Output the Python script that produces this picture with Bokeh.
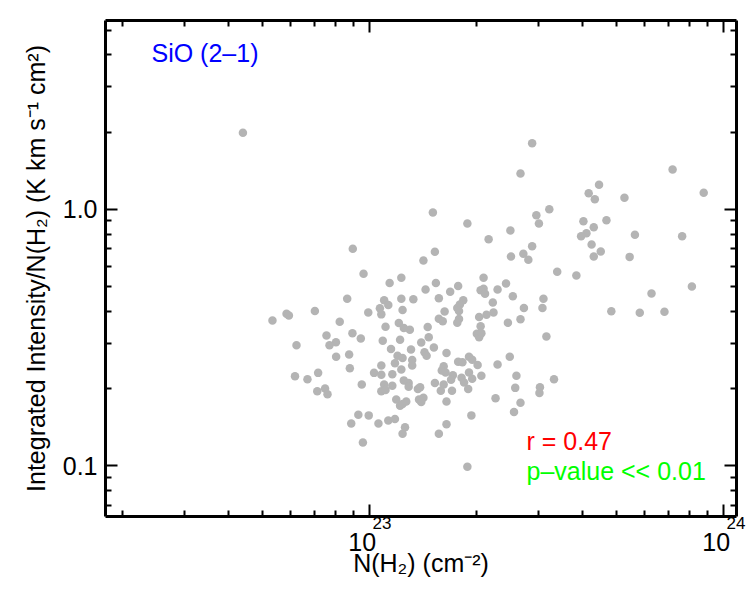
from bokeh.plotting import figure
from bokeh.models import (Range1d, LogAxis, FixedTicker, CustomJSTickFormatter,
                          Label, ColumnDataSource)
from bokeh.embed import file_html
from bokeh.resources import INLINE

# Column density of molecular hydrogen, N(H2) in cm^-2
n_h2 = [
    4.39e22, 2.88e23, 2.67e23, 7.18e23, 8.79e23, 4.45e23, 4.16e23, 4.33e23, 5.25e23, 3.22e23,
    1.51e23, 2.96e23, 3.01e23, 1.89e23, 4.02e23, 4.67e23, 2.50e23, 4.10e23, 3.96e23, 4.30e23,
    5.62e23, 7.64e23, 2.17e23, 4.24e23, 2.88e23, 2.72e23, 2.51e23, 2.81e23, 4.30e23, 4.50e23,
    5.43e23, 1.53e23, 1.42e23, 3.39e23, 8.97e22, 9.62e22, 3.84e23, 1.14e23, 1.23e23, 1.54e23,
    1.44e23, 1.78e23, 1.69e23, 2.10e23, 2.10e23, 2.06e23, 2.12e23, 2.30e23, 2.43e23, 2.54e23,
    3.10e23, 6.26e23, 8.14e23, 1.10e23, 1.23e23, 1.33e23, 1.57e23, 1.84e23, 8.65e22, 2.23e23,
    3.08e23, 4.82e23, 5.80e23, 6.81e23, 1.13e23, 1.07e23, 1.08e23, 1.24e23, 9.92e22, 7.01e22,
    5.83e22, 5.92e22, 5.32e22, 8.24e22, 1.11e23, 1.21e23, 1.25e23, 1.30e23, 7.56e22, 8.95e22,
    9.45e22, 1.09e23, 1.22e23, 8.04e22, 7.71e22, 6.22e22, 1.15e23, 1.31e23, 8.05e22, 8.76e22,
    1.20e23, 1.24e23, 1.32e23, 8.80e22, 1.08e23, 1.18e23, 1.23e23, 1.32e23, 7.16e22, 6.16e22,
    1.03e23, 1.08e23, 1.16e23, 1.46e23, 1.40e23, 1.47e23, 1.43e23, 1.45e23, 1.52e23, 1.65e23,
    1.80e23, 1.77e23, 1.79e23, 1.79e23, 1.77e23, 1.63e23, 2.24e23, 2.14e23, 2.04e23, 2.67e23,
    2.46e23, 1.57e23, 1.61e23, 2.06e23, 2.01e23, 2.04e23, 2.07e23, 3.16e23, 2.49e23, 1.78e23,
    1.83e23, 1.91e23, 1.95e23, 2.02e23, 2.30e23, 1.62e23, 1.60e23, 1.64e23, 1.72e23, 1.91e23,
    2.07e23, 2.60e23, 2.73e23, 6.68e22, 7.12e22, 7.49e22, 7.61e22, 9.51e22, 1.10e23, 1.08e23,
    1.11e23, 1.16e23, 1.25e23, 1.29e23, 1.29e23, 1.37e23, 1.39e23, 1.19e23, 1.22e23, 1.24e23,
    1.27e23, 1.38e23, 1.42e23, 1.40e23, 9.30e22, 9.95e22, 8.88e22, 1.06e23, 1.13e23, 1.18e23,
    1.26e23, 1.24e23, 9.58e22, 1.53e23, 1.62e23, 1.59e23, 1.70e23, 1.82e23, 1.85e23, 1.95e23,
    1.71e23, 1.90e23, 1.65e23, 1.94e23, 1.65e23, 1.57e23, 1.89e23, 2.27e23, 2.58e23, 2.67e23,
    2.56e23, 3.03e23, 3.02e23, 3.32e23,
]

# SiO (2-1) integrated intensity divided by N(H2)
ratio = [
    1.99, 1.81, 1.38, 1.43, 1.16, 1.245, 1.155, 1.094, 1.11, 1.00,
    0.971, 0.947, 0.880, 0.880, 0.898, 0.906, 0.826, 0.806, 0.785, 0.851,
    0.795, 0.785, 0.764, 0.728, 0.717, 0.670, 0.654, 0.635, 0.654, 0.684,
    0.652, 0.682, 0.631, 0.571, 0.701, 0.560, 0.551, 0.516, 0.541, 0.516,
    0.486, 0.502, 0.477, 0.540, 0.490, 0.483, 0.468, 0.486, 0.513, 0.458,
    0.448, 0.469, 0.500, 0.442, 0.448, 0.446, 0.450, 0.442, 0.448, 0.433,
    0.412, 0.400, 0.395, 0.398, 0.423, 0.411, 0.389, 0.405, 0.396, 0.401,
    0.391, 0.385, 0.368, 0.364, 0.348, 0.360, 0.344, 0.339, 0.322, 0.328,
    0.313, 0.307, 0.310, 0.303, 0.295, 0.295, 0.285, 0.284, 0.266, 0.271,
    0.268, 0.263, 0.258, 0.240, 0.246, 0.251, 0.237, 0.246, 0.230, 0.223,
    0.230, 0.226, 0.227, 0.347, 0.302, 0.317, 0.277, 0.268, 0.289, 0.275,
    0.425, 0.412, 0.401, 0.373, 0.361, 0.399, 0.396, 0.388, 0.380, 0.372,
    0.361, 0.374, 0.366, 0.350, 0.327, 0.317, 0.328, 0.319, 0.266, 0.254,
    0.253, 0.266, 0.259, 0.247, 0.248, 0.244, 0.235, 0.231, 0.225, 0.231,
    0.224, 0.224, 0.412, 0.217, 0.195, 0.200, 0.190, 0.207, 0.207, 0.195,
    0.197, 0.205, 0.215, 0.210, 0.203, 0.199, 0.202, 0.181, 0.171, 0.174,
    0.178, 0.181, 0.184, 0.177, 0.158, 0.157, 0.146, 0.146, 0.150, 0.152,
    0.141, 0.133, 0.123, 0.210, 0.207, 0.196, 0.216, 0.220, 0.211, 0.218,
    0.196, 0.199, 0.178, 0.157, 0.145, 0.133, 0.099, 0.183, 0.201, 0.176,
    0.162, 0.202, 0.192, 0.217,
]

# Axis ticks and their labels
x_ticks = [1e23, 1e24]
x_tick_mantissa = "10"
x_tick_exponents = ["23", "24"]
y_ticks = [0.1, 1.0]
y_tick_labels = ["0.1", "1.0"]

line_name = "SiO (2–1)"
corr_text = "r = 0.47"
pval_text = "p–value << 0.01"

FONT = "Liberation Sans"
FS = "25px"

x_minor = [m * 10.0 ** e for e in (22, 23) for m in range(2, 10)]
y_minor = [m * 10.0 ** e for e in (-2, -1, 0) for m in range(2, 10)]

p = figure(width=750, height=600, x_axis_type="log", y_axis_type="log",
           x_range=Range1d(1.796e22, 1.088e24), y_range=Range1d(0.0633, 5.45),
           output_backend="svg", toolbar_location=None,
           min_border_left=105, min_border_right=14, min_border_top=20,
           min_border_bottom=84)
p.xgrid.visible = False
p.ygrid.visible = False
p.outline_line_color = None
p.background_fill_color = "white"
p.border_fill_color = "white"


def style_axis(ax):
    ax.axis_line_color = "black"
    ax.axis_line_width = 3
    ax.major_tick_line_color = "black"
    ax.major_tick_line_width = 2
    ax.minor_tick_line_color = "black"
    ax.minor_tick_line_width = 2
    ax.major_tick_in = 12
    ax.major_tick_out = 0
    ax.minor_tick_in = 6
    ax.minor_tick_out = 0
    ax.major_label_text_font = FONT
    ax.major_label_text_font_size = FS
    ax.major_label_text_color = "black"
    ax.axis_label_text_font = FONT
    ax.axis_label_text_font_size = FS
    ax.axis_label_text_font_style = "normal"
    ax.axis_label_text_color = "black"


def label_only(ax, size):
    # an axis that only carries text: no line, no ticks
    ax.axis_line_color = None
    ax.major_tick_line_color = None
    ax.minor_tick_line_color = None
    ax.major_tick_in = 0
    ax.major_tick_out = 0
    ax.minor_tick_in = 0
    ax.minor_tick_out = 0
    ax.major_label_text_font = FONT
    ax.major_label_text_font_size = size
    ax.major_label_text_color = "black"
    ax.axis_label_text_font = FONT
    ax.axis_label_text_font_size = FS
    ax.axis_label_text_font_style = "normal"
    ax.axis_label_text_color = "black"


xticker = FixedTicker(ticks=x_ticks, minor_ticks=x_minor)
yticker = FixedTicker(ticks=y_ticks, minor_ticks=y_minor)
blank = CustomJSTickFormatter(code="return ''")

# main bottom axis: line and inward ticks
xa = p.xaxis[0]
xa.ticker = xticker
xa.formatter = blank
xa.major_label_standoff = 0
xa.axis_label = None
style_axis(xa)

# exponent row, set a little right of each decade tick
exp_pos = [t * 1.0847 for t in x_ticks]
xe = LogAxis(ticker=FixedTicker(ticks=exp_pos),
             major_label_overrides=dict(zip(exp_pos, x_tick_exponents)),
             major_label_standoff=0, axis_label=None)
label_only(xe, "17px")
p.add_layout(xe, "below")

# mantissa row "10", a little left of each decade tick
man_pos = [t * 0.9535 for t in x_ticks]
xm = LogAxis(ticker=FixedTicker(ticks=man_pos),
             major_label_overrides={v: x_tick_mantissa for v in man_pos},
             major_label_standoff=1, axis_label="N(H₂) (cm⁻²)",
             axis_label_standoff=-5)
label_only(xm, FS)
p.add_layout(xm, "below")

ya = p.yaxis[0]
ya.ticker = yticker
ya.major_label_overrides = dict(zip(y_ticks, y_tick_labels))
ya.major_label_standoff = 8
ya.axis_label = "Integrated Intensity/N(H₂) (K km s⁻¹ cm²)"
ya.axis_label_standoff = 10
style_axis(ya)

top = LogAxis(ticker=xticker, formatter=blank, major_label_standoff=0,
              axis_label=None)
style_axis(top)
top.major_label_text_font_size = "1px"
p.add_layout(top, "above")
right = LogAxis(ticker=yticker, formatter=blank, major_label_standoff=0,
                axis_label=None)
style_axis(right)
right.major_label_text_font_size = "1px"
p.add_layout(right, "right")

src = ColumnDataSource(data=dict(n=n_h2, r=ratio))
p.scatter(x="n", y="r", source=src, size=8.5, fill_color="#b4b4b4",
          line_color=None)

p.add_layout(Label(x=46, y=464, x_units="screen", y_units="screen", text=line_name,
                   text_baseline="alphabetic", text_font=FONT,
                   text_font_size=FS, text_color="#0000ff"))
p.add_layout(Label(x=421, y=76, x_units="screen", y_units="screen", text=corr_text,
                   text_baseline="alphabetic", text_font=FONT,
                   text_font_size=FS, text_color="#ff0000"))
p.add_layout(Label(x=421, y=46, x_units="screen", y_units="screen", text=pval_text,
                   text_baseline="alphabetic", text_font=FONT,
                   text_font_size=FS, text_color="#00ff00"))

open("out.html", "w").write(file_html(p, INLINE))
